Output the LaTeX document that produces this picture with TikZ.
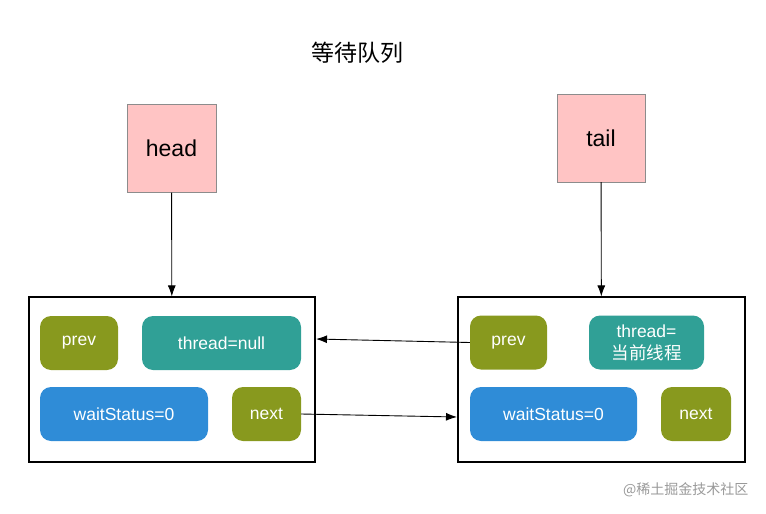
\documentclass[tikz,border=0pt]{standalone}
\usepackage{fontspec}
\setmainfont{Liberation Sans}
\newfontfamily\cjk{Noto Sans CJK SC}
\usetikzlibrary{arrows.meta}
\definecolor{pinkbox}{RGB}{255,196,196}
\definecolor{olivebox}{RGB}{136,153,30}
\definecolor{tealbox}{RGB}{48,160,150}
\definecolor{bluebox}{RGB}{47,140,215}
\tikzset{
  ptr/.style={draw=black!45,fill=pinkbox,minimum width=#1,minimum height=88pt,font=\fontsize{23}{25}\selectfont},
  nodebox/.style={draw=black,line width=1.1pt,minimum width=#1,minimum height=165pt},
  field/.style={rounded corners=11pt,text=white,minimum height=54pt,minimum width=#1,align=center,font=\fontsize{17.5}{21}\selectfont},
  link/.style={-{Latex[length=11pt,width=8pt]},line width=0.9pt}
}
\begin{document}
\begin{tikzpicture}[x=1pt,y=-1pt]
  \useasboundingbox (0,0) rectangle (766,514);
  \node (title) at (357,53) {\cjk\fontsize{23}{25}\selectfont 等待队列};

  \node[ptr=89pt] (head) at (171.5,148.5) {head};
  \node[ptr=88pt] (tail) at (601,138) {tail};

  \node[nodebox=286pt] (lbox) at (172,379.5) {};
  \node[nodebox=287pt] (rbox) at (601.5,379.5) {};

  % first node
  \node[field=78pt,fill=olivebox] (lprev) at (79,343) {prev};
  \node[field=159pt,fill=tealbox] (lthread) at (221.5,343) {thread=null};
  \node[field=168pt,fill=bluebox] (lwait) at (124,414) {waitStatus=0};
  \node[field=69pt,fill=olivebox] (lnext) at (266.5,414) {next};

  % second node
  \node[field=77pt,fill=olivebox] (rprev) at (508.5,342.5) {prev};
  \node[field=115pt,fill=tealbox,font=\fontsize{17.5}{22}\selectfont] (rthread) at (646.5,342.5) {thread=\\{\cjk 当前线程}};
  \node[field=167pt,fill=bluebox] (rwait) at (553.5,414) {waitStatus=0};
  \node[field=70pt,fill=olivebox] (rnext) at (696,414) {next};

  \coordinate (lin) at (316,339);
  \coordinate (rin) at (457,417);

  \draw[link] (head) -- (lbox);
  \draw[link] (tail) -- (rbox);
  \draw[link] (rprev.west) -- (lin);
  \draw[link] (lnext.east) -- (rin);

  \node[text=black!40,anchor=east] (mark) at (752,490) {\cjk\fontsize{14}{16}\selectfont @稀土掘金技术社区};
\end{tikzpicture}
\end{document}
